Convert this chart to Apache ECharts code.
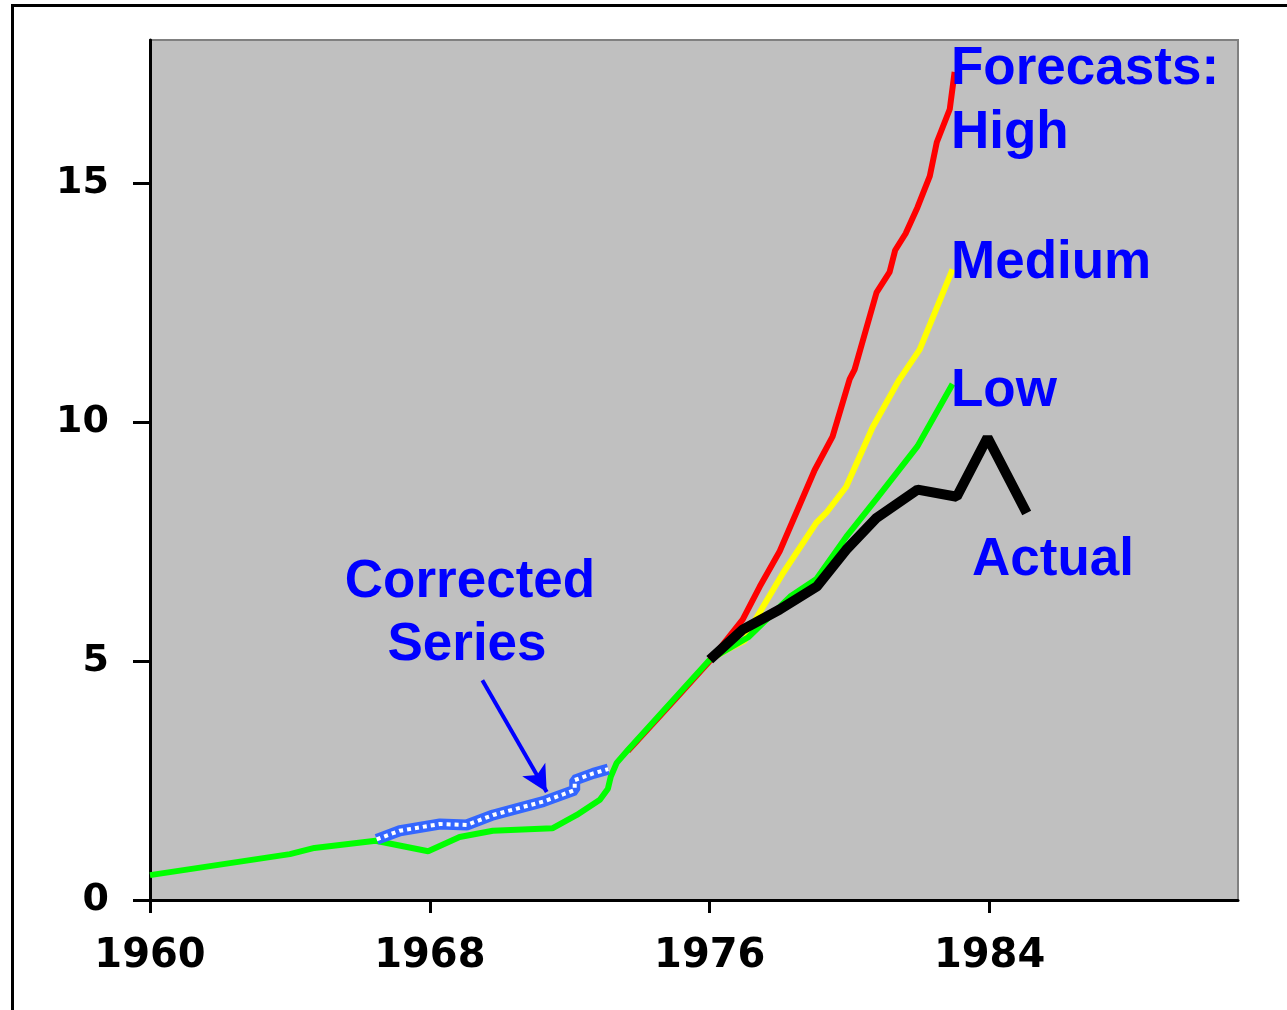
<!DOCTYPE html>
<html>
<head>
<meta charset="utf-8">
<script src="https://cdn.jsdelivr.net/npm/echarts@6/dist/echarts.min.js"></script>
<style>
  html, body { margin: 0; padding: 0; background: #ffffff; }
  #chart { width: 1287px; height: 1010px; }
</style>
</head>
<body>
<div id="chart"></div>
<script>
// Tick positions on both axes
const xTickYears = [1960, 1968, 1976, 1984];
const yTickValues = [0, 5, 10, 15];

// Recorded series up to 1976 [year, value]
const history = [
  [1960.0, 0.52], [1964.0, 0.96], [1964.7, 1.09], [1966.45, 1.24],
  [1967.95, 1.02], [1968.85, 1.32], [1969.8, 1.45], [1971.5, 1.50],
  [1972.2, 1.78], [1972.86, 2.10], [1973.09, 2.33], [1973.17, 2.58],
  [1973.34, 2.87], [1973.66, 3.14], [1976.0, 5.03]
];

// Revised series for the late 1960s and early 1970s
const corrected = [
  [1966.48, 1.27], [1967.14, 1.45], [1968.29, 1.59], [1969.05, 1.57],
  [1969.81, 1.78], [1971.24, 2.06], [1972.14, 2.30], [1972.14, 2.51],
  [1972.67, 2.65], [1973.10, 2.74]
];

// Forecast scenarios from 1976
const highForecast = [
  [1973.66, 3.12], [1975.0, 4.19], [1976.0, 5.00], [1976.94, 5.87],
  [1977.43, 6.56], [1978.0, 7.30], [1979.0, 9.00], [1979.51, 9.70],
  [1980.0, 10.90], [1980.14, 11.10], [1980.77, 12.72], [1981.14, 13.14],
  [1981.3, 13.60], [1981.6, 13.95], [1981.94, 14.50], [1982.29, 15.15],
  [1982.49, 15.86], [1982.86, 16.55], [1983.0, 17.33]
];
const mediumForecast = [
  [1976.0, 5.03], [1976.5, 5.24], [1977.0, 5.43], [1977.25, 5.80],
  [1978.1, 6.85], [1979.05, 7.90], [1979.35, 8.12], [1979.9, 8.65],
  [1980.66, 9.90], [1981.4, 10.87], [1982.0, 11.52], [1982.94, 13.20]
];
const lowForecast = [
  [1976.0, 5.03], [1977.1, 5.50], [1978.3, 6.35], [1979.05, 6.72],
  [1979.9, 7.60], [1980.77, 8.40], [1981.94, 9.50], [1982.94, 10.80]
];

// Outturn
const actual = [
  [1976.0, 5.03], [1976.94, 5.66], [1978.0, 6.08], [1979.06, 6.56],
  [1979.9, 7.33], [1980.77, 8.00], [1981.94, 8.59], [1983.06, 8.44],
  [1983.94, 9.68], [1985.06, 8.10]
];

// Pointer from the "Corrected Series" note to the revised line
const arrowFrom = [1969.5, 4.6];
const arrowTo = [1971.34, 2.26];

const chart = echarts.init(document.getElementById('chart'), null, { renderer: 'canvas' });

const noteFont = 'bold 53px "Liberation Sans", Arial, sans-serif';
const noteColor = '#0000ff';

function note(text, x, y, align) {
  return {
    type: 'text',
    z: 100,
    style: {
      text: text, x: x, y: y,
      font: noteFont, fill: noteColor,
      textAlign: align || 'left', align: align || 'left',
      textVerticalAlign: 'middle', verticalAlign: 'middle'
    }
  };
}

function lineSeries(name, data, color, width, extra) {
  return Object.assign({
    type: 'line',
    name: name,
    data: data,
    showSymbol: false,
    symbol: 'none',
    silent: true,
    animation: false,
    lineStyle: { color: color, width: width }
  }, extra || {});
}

const tickFont = '"DejaVu Sans", sans-serif';

chart.setOption({
  animation: false,
  backgroundColor: '#ffffff',
  grid: {
    left: 150, right: 49, top: 40, bottom: 110,
    show: true,
    backgroundColor: '#c0c0c0',
    borderColor: '#808080',
    borderWidth: 2
  },
  xAxis: {
    type: 'value',
    min: 1960, max: 1991.1, interval: 8,
    axisLine: { show: true, lineStyle: { color: '#000', width: 3 } },
    axisTick: { show: true, length: 13, lineStyle: { color: '#000', width: 3 }, customValues: xTickYears },
    axisLabel: {
      customValues: xTickYears,
      margin: 37,
      color: '#000',
      fontFamily: tickFont,
      fontWeight: 'bold',
      fontSize: 40,
      formatter: v => String(v)
    },
    splitLine: { show: false }
  },
  yAxis: {
    type: 'value',
    min: 0, max: 18, interval: 5,
    axisLine: { show: true, lineStyle: { color: '#000', width: 3 } },
    axisTick: { show: true, length: 17, lineStyle: { color: '#000', width: 3 }, customValues: yTickValues },
    axisLabel: {
      customValues: yTickValues,
      margin: 41,
      color: '#000',
      fontFamily: tickFont,
      fontWeight: 'bold',
      fontSize: 38
    },
    splitLine: { show: false }
  },
  series: [
    lineSeries('High', highForecast, '#ff0000', 6),
    lineSeries('Medium', mediumForecast, '#ffff00', 6),
    lineSeries('Low', lowForecast, '#00ff00', 6),
    lineSeries('History', history, '#00ff00', 6),
    lineSeries('Corrected', corrected, '#3366ff', 11, {
      markLine: {
        silent: true,
        animation: false,
        symbol: ['none', 'arrow'],
        symbolSize: [20, 26],
        label: { show: false },
        lineStyle: { color: '#0000ff', width: 4, type: 'solid' },
        data: [[{ coord: arrowFrom }, { coord: arrowTo }]]
      }
    }),
    lineSeries('Corrected dots', corrected, '#ffffff', 4, {
      lineStyle: { color: '#ffffff', width: 4, type: [4, 4] }
    }),
    lineSeries('Actual', actual, '#000000', 10)
  ],
  graphic: [
    {
      type: 'rect',
      z: 100,
      shape: { x: 12.5, y: 5.5, width: 1400, height: 1100 },
      style: { fill: 'none', stroke: '#000', lineWidth: 3 }
    },
    note('Forecasts:', 951, 69),
    note('High', 951, 133),
    note('Medium', 951, 263),
    note('Low', 951, 391),
    note('Actual', 972, 560),
    note('Corrected', 470, 582, 'center'),
    note('Series', 467, 645, 'center')
  ]
});
</script>
</body>
</html>
